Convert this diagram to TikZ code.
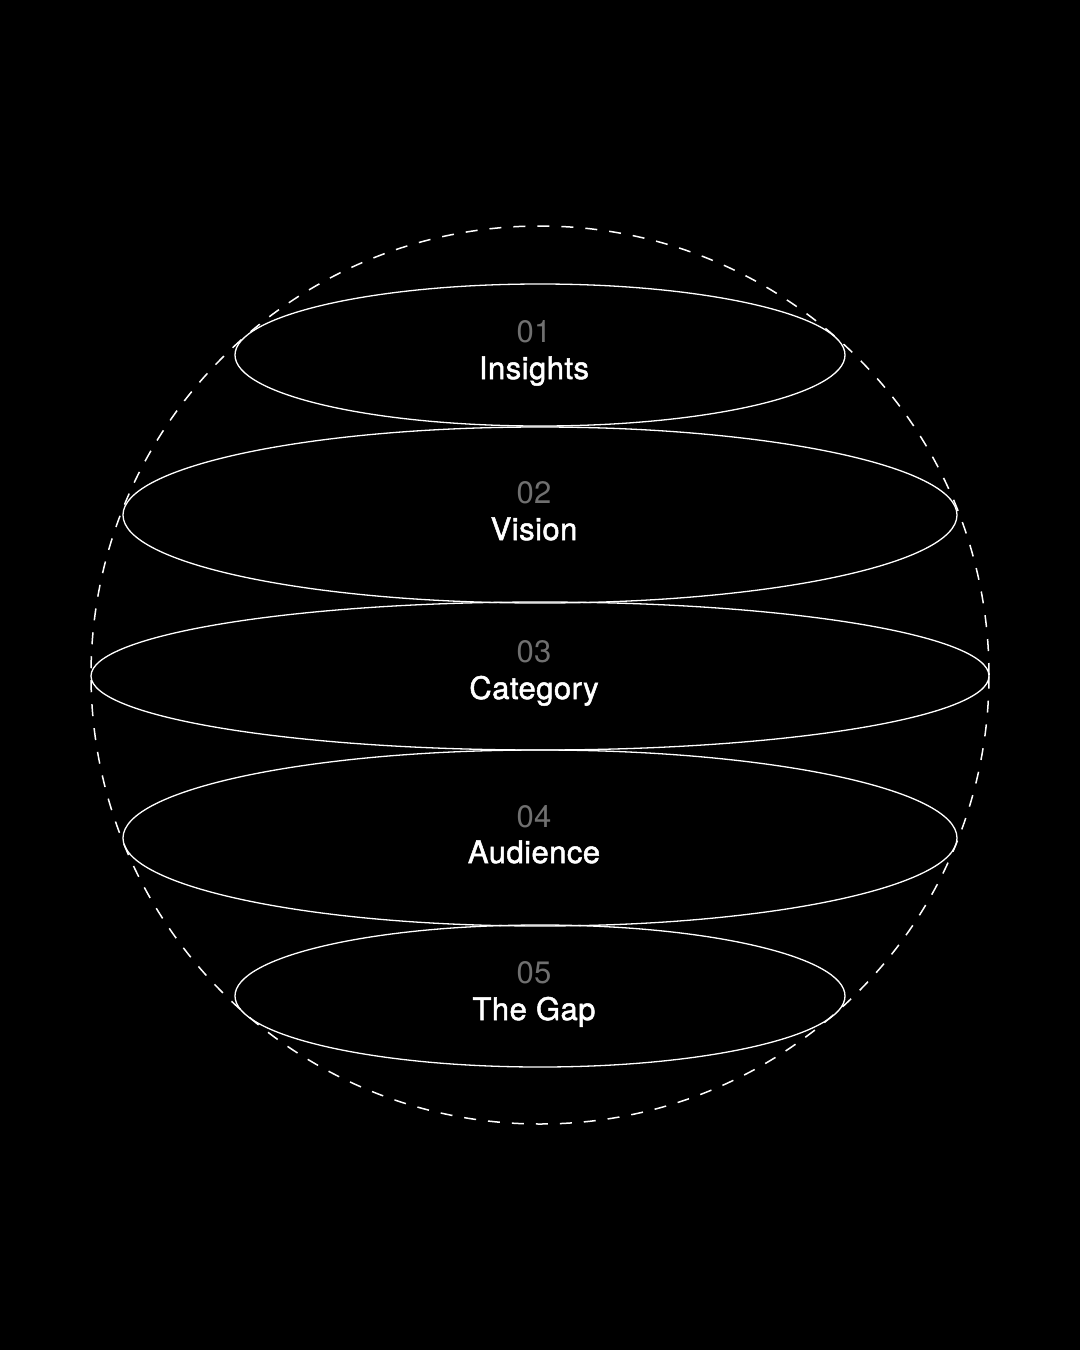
\documentclass[tikz,border=0pt]{standalone}
\usepackage{fontspec}
\setmainfont{TeX Gyre Heros}
\newfontfamily\labfont[FakeBold=1.6,LetterSpace=1.5]{TeX Gyre Heros}
\newfontfamily\numfont[LetterSpace=1]{TeX Gyre Heros}
\usetikzlibrary{shapes.geometric}
\definecolor{numgray}{HTML}{707070}
\begin{document}
\begin{tikzpicture}[x=1pt,y=-1pt,
  ring/.style={draw=white,line width=1.3pt,ellipse,inner sep=0pt},
  globe/.style={draw=white,line width=1.5pt,dash pattern=on 12pt off 12pt,circle,inner sep=0pt,minimum size=898pt},
  numtxt/.style={text=numgray,font=\numfont\fontsize{31}{31}\selectfont,anchor=base,inner sep=0pt},
  labtxt/.style={text=white,font=\labfont\fontsize{31}{31}\selectfont,anchor=base,inner sep=0pt}]
\fill[black] (0,0) rectangle (1080,1350);
\useasboundingbox (0,0) rectangle (1080,1350);
\node[globe] (g) at (540,675) {};
\node[ring,minimum width=610pt,minimum height=142pt] (e1) at (540,355) {};
\node[ring,minimum width=834pt,minimum height=176pt] (e2) at (540,515) {};
\node[ring,minimum width=898pt,minimum height=148pt] (e3) at (540,676) {};
\node[ring,minimum width=834pt,minimum height=176pt] (e4) at (540,838) {};
\node[ring,minimum width=610pt,minimum height=142pt] (e5) at (540,996) {};
\node[numtxt] (n1) at (534,342) {01};
\node[labtxt] (l1) at (534,379) {Insights};
\node[numtxt] (n2) at (534,503) {02};
\node[labtxt] (l2) at (534,540) {Vision};
\node[numtxt] (n3) at (534,662) {03};
\node[labtxt] (l3) at (534,699) {Category};
\node[numtxt] (n4) at (534,827) {04};
\node[labtxt] (l4) at (534,863) {Audience};
\node[numtxt] (n5) at (534,983) {05};
\node[labtxt] (l5) at (534,1020) {The Gap};
\end{tikzpicture}
\end{document}
